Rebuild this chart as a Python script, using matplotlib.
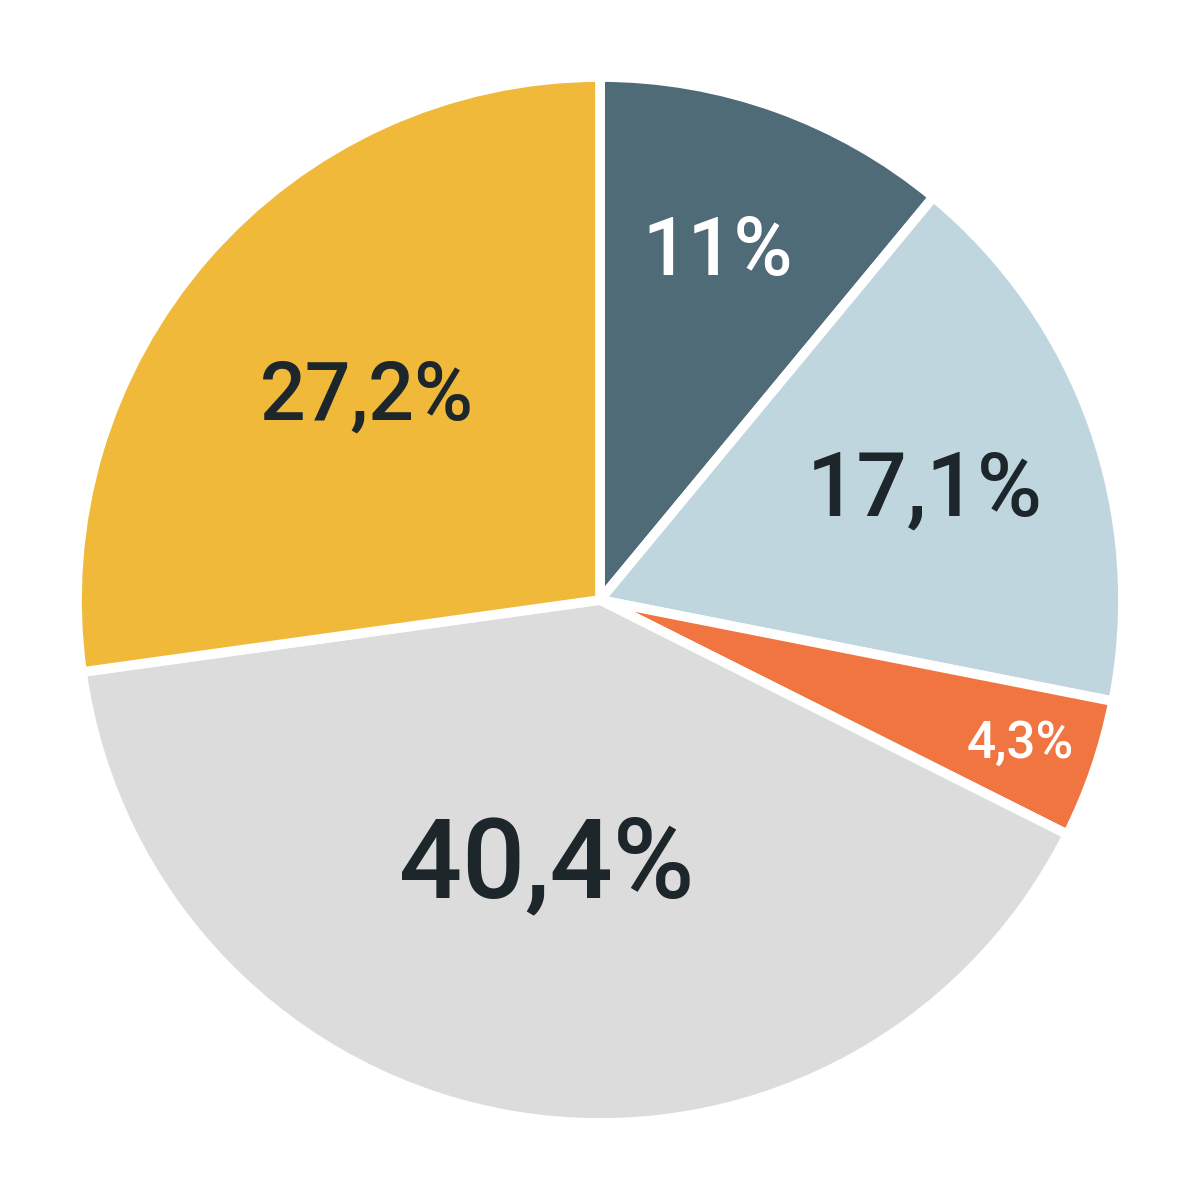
import matplotlib.pyplot as plt
import numpy as np

plt.rcParams['font.family'] = ['Roboto', 'DejaVu Sans']

labels = ["11%", "17,1%", "4,3%", "40,4%", "27,2%"]
values = [11.0, 17.1, 4.3, 40.4, 27.2]
colors = ["#4F6B78", "#C0D6DF", "#F07540", "#DCDCDC", "#F0B93A"]
text_colors = ["white", "#1C262B", "white", "#1C262B", "#1C262B"]
font_sizes = [58, 64, 37, 80, 58]
label_radius = [0.70, 0.655, 0.85, 0.52, 0.59]
label_turn = [1.0, -1.0, 0.0, -2.0, 0.0]  # degrees off the wedge middle

fig = plt.figure(figsize=(12, 12), dpi=100)
ax = fig.add_axes([0, 0, 1, 1])

wedges, _ = ax.pie(values, colors=colors, startangle=90, counterclock=False,
                   radius=1.0, center=(0, 0),
                   wedgeprops=dict(edgecolor="white", linewidth=7))

for w, lab, tc, fs, r, dt in zip(wedges, labels, text_colors, font_sizes,
                                  label_radius, label_turn):
    mid = np.deg2rad((w.theta1 + w.theta2) / 2 + dt)
    ax.text(r * np.cos(mid), r * np.sin(mid), lab, color=tc, fontsize=fs,
            fontweight='medium', ha='center', va='center')

lim = 600 / 523
ax.set_xlim(-lim, lim)
ax.set_ylim(-lim, lim)
ax.set_aspect('equal')
ax.axis('off')

fig.savefig("out.png", dpi=100, facecolor="white")
